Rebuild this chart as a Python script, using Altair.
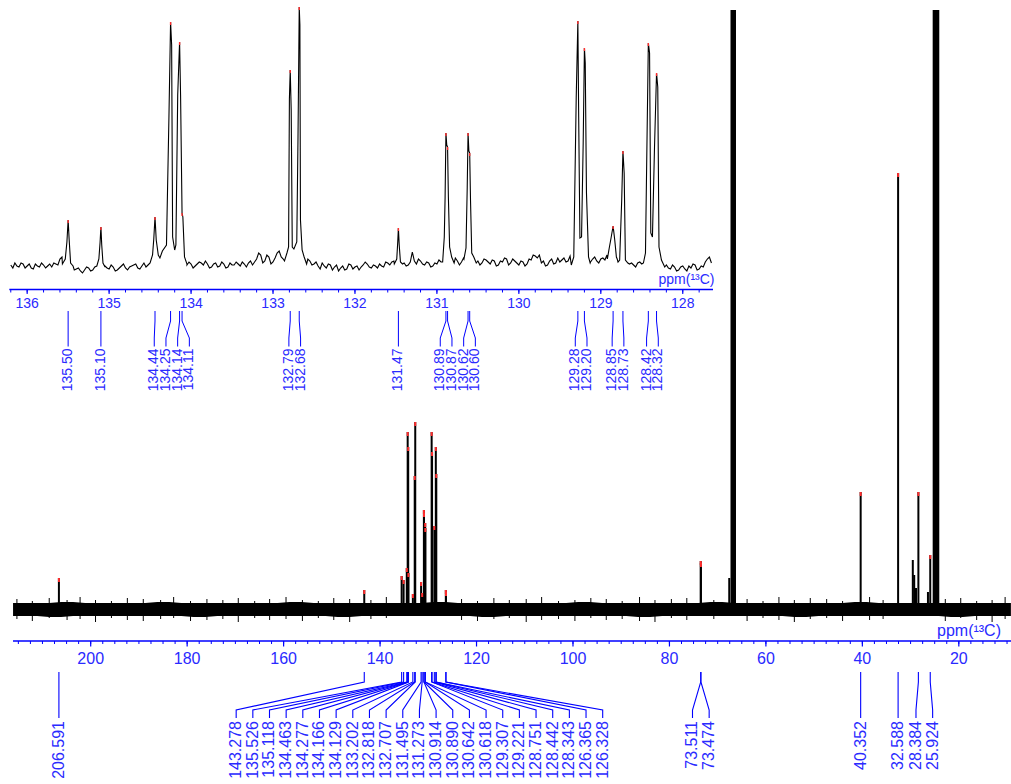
import altair as alt
import numpy as np
import pandas as pd

# ---------------- full 13C spectrum ----------------
main_peak_ppm = [206.591, 143.278, 135.526, 135.118, 134.463, 134.277, 134.166, 134.129,
                 133.202, 132.818, 132.707, 131.495, 131.273, 130.914, 130.890, 130.642,
                 130.618, 129.307, 129.221, 128.751, 128.442, 128.343, 126.365, 126.328,
                 73.511, 73.474, 40.352, 32.588, 28.384, 25.924]
main_peak_height = [31, 19, 33, 29, 41, 177, 162, 36,
                    15, 133, 187, 27, 16, 99, 96, 86,
                    81, 177, 157, 83, 162, 135, 19, 17,
                    48, 46, 117, 436, 117, 54]

# unpicked signals (shoulders of the solvent multiplets, small aliphatic lines)
minor_peak_ppm = [67.6, 29.54, 29.25, 28.88, 26.4]
minor_peak_height = [31, 49, 34, 21, 17]

# solvent multiplets, running off the top of the plot
solvent_ppm_from = [67.34, 25.42]
solvent_ppm_to = [66.20, 24.05]
solvent_height = [599, 599]

# envelope of the baseline noise
noise_upper = [6, 6, 6, 6, 7, 7, 6, 6, 6, 6,
               6, 6, 7, 7, 6, 6, 6, 6, 6, 6,
               6, 6, 6, 7, 7, 6, 6, 6, 6, 6,
               6, 6, 6, 6, 6, 7, 7, 6, 6, 6,
               6, 6, 6, 6, 6, 6, 6, 7, 7, 6,
               6, 6, 6, 6, 6, 6, 6, 6, 7, 7,
               6, 6, 6, 6, 6, 6, 6, 6, 6, 6,
               7, 7, 6, 6, 6, 6, 6, 6, 6, 6,
               6, 6, 6, 6]
noise_lower = [-7, -7, -7, -8, -8, -7, -7, -7, -7, -7,
               -7, -7, -7, -7, -7, -8, -8, -7, -7, -7,
               -7, -7, -7, -7, -7, -7, -7, -8, -8, -7,
               -7, -7, -7, -7, -7, -7, -7, -7, -7, -8,
               -8, -7, -7, -7, -7, -7, -7, -7, -7, -7,
               -7, -7, -8, -8, -7, -7, -7, -7, -7, -7,
               -7, -7, -7, -7, -7, -8, -8, -7, -7, -7,
               -7, -7, -7, -7, -7, -7, -7, -7, -8, -8,
               -7, -7, -7, -7]

# isolated noise spikes reaching out of the band
spike_ppm = [215.3, 212.1, 208.6, 204.9, 202.2, 199.0, 195.7, 192.4, 189.1, 185.5,
             182.8, 179.3, 175.9, 172.6, 169.4, 166.0, 162.9, 159.5, 156.1, 152.8,
             149.6, 146.3, 141.9, 138.7, 123.1, 119.8, 116.4, 113.2, 109.7, 106.5,
             103.0, 99.6, 96.3, 93.1, 89.8, 86.2, 83.0, 79.6, 76.4, 70.8,
             63.9, 60.6, 57.3, 54.1, 50.8, 47.4, 44.1, 38.5, 35.7, 22.8,
             19.6, 16.3, 13.1, 10.4]
spike_top = [10, 8, 11, 9, 12, 9, 8, 11, 10, 9,
             12, 8, 10, 9, 11, 8, 10, 12, 9, 8,
             11, 10, 9, 12, 10, 8, 11, 9, 10, 12,
             8, 9, 11, 10, 8, 12, 9, 10, 11, 9,
             10, 8, 12, 9, 11, 10, 8, 12, 9, 10,
             11, 8, 9, 12]
spike_bottom = [-10, -12, -9, -11, -10, -13, -9, -11, -12, -10,
                -9, -12, -11, -10, -13, -9, -11, -10, -12, -9,
                -11, -13, -10, -9, -11, -12, -10, -9, -13, -11,
                -10, -12, -9, -11, -10, -12, -13, -9, -11, -10,
                -12, -9, -11, -13, -10, -9, -12, -11, -10, -12,
                -9, -11, -13, -10]

main_tick_values = [200, 180, 160, 140, 120, 100, 80, 60, 40, 20]
main_tick_labels = ["200", "180", "160", "140", "120", "100", "80", "60", "40", "20"]

# ---------------- expansion 136 - 127.6 ppm ----------------
inset_peak_ppm = [135.50, 135.10, 134.44, 134.25, 134.14, 134.11, 132.79, 132.68, 131.47,
                  130.89, 130.87, 130.62, 130.60, 129.28, 129.20, 128.85, 128.73, 128.42, 128.32]
inset_peak_height = [47, 40, 50, 245, 225, 54, 197, 260, 39,
                     134, 120, 134, 114, 246, 219, 41, 116, 224, 194]

# line-shape points on the flanks of each signal group (ppm, intensity)
inset_flanks = [
    [(135.57, 3), (135.535, 8), (135.515, 25), (135.488, 28), (135.47, 4), (135.44, 1)],
    [(135.15, 1), (135.125, 8), (135.11, 25), (135.09, 22), (135.075, 4), (135.05, 0)],
    [(134.50, 4), (134.47, 12), (134.455, 28), (134.425, 27), (134.40, 12), (134.38, 9),
     (134.35, 16), (134.30, 22), (134.27, 150), (134.237, 222), (134.225, 30), (134.20, 17),
     (134.185, 22), (134.163, 172), (134.128, 172), (134.10, 50), (134.08, 10), (134.05, 3)],
    [(132.86, 6), (132.83, 14), (132.81, 20), (132.80, 168), (132.778, 157), (132.765, 20),
     (132.745, 18), (132.71, 25), (132.695, 130), (132.672, 242), (132.665, 47), (132.645, 17),
     (132.62, 10), (132.59, 3)],
    [(131.52, 3), (131.49, 8), (131.478, 25), (131.46, 22), (131.445, 5), (131.42, 3)],
    [(130.93, 5), (130.91, 30), (130.90, 70), (130.88, 122), (130.86, 70), (130.845, 20),
     (130.82, 10), (130.79, 4)],
    [(130.67, 8), (130.645, 19), (130.63, 80), (130.61, 116), (130.59, 67), (130.575, 14),
     (130.55, 10), (130.52, 4)],
    [(129.36, 2), (129.33, 10), (129.30, 170), (129.27, 150), (129.255, 29), (129.235, 30),
     (129.215, 124), (129.19, 204), (129.175, 74), (129.15, 10), (129.13, 4)],
    [(128.92, 8), (128.895, 20), (128.875, 29), (128.83, 27), (128.81, 10)],
    [(128.79, 5), (128.77, 7), (128.745, 67), (128.715, 94), (128.70, 7), (128.67, 4)],
    [(128.48, 4), (128.455, 14), (128.44, 105), (128.405, 214), (128.39, 34), (128.37, 30),
     (128.345, 119), (128.305, 180), (128.29, 20), (128.26, 7), (128.22, 0)],
]

# baseline of the expansion, sampled every 0.05 ppm from 136.20 down to 127.65
inset_baseline = [
    2, 4, 0, 3, 1, -1, 3, 0, 2, 1,
    0, 3, 8, 6, 3, 1, -2, -4, -3, -1,
    -3, -2, 0, 1, -2, 0, -3, 1, -1, 0,
    2, -1, 1, 0, 3, 6, 4, 9, 12, 20,
    17, 12, 4, 2, 3, 1, 5, 2, 3, 0,
    4, 1, 3, 0, 2, 5, 1, 3, 4, 2,
    8, 12, 6, 10, 5, 14, 10, 18, 20, 20,
    25, 20, 10, 6, 3, 1, 4, -1, 2, 0,
    -4, 1, -2, 2, 0, -3, 2, 3, -1, 1,
    3, 0, 4, 5, 3, 2, 4, 2, 15, 3,
    6, 2, 4, 1, 3, 5, 8, 20, 10, 6,
    5, 8, 10, 12, 6, 4, 7, 3, 6, 2,
    5, 8, 4, 6, 2, 5, 3, 7, 11, 12,
    6, 2, 8, 4, 5, 9, 6, 10, 30, 40,
    40, 10, 8, 6, 8, 7, 25, 40, 8, 6,
    5, 3, 2, 4, 3, 2, 5, 30, 50, 30,
    2, -2, 0, -3, 1, -4, -1, 2, -2, 0,
    8, 4,
]
# the same baseline between those samples (136.175 down to 127.675)
inset_baseline_mid = [
    -1, 1, 4, -1, 3, -2, 1, 4, -1, 3,
    4, 2, 10, 5, 0, -3, -1, -6, 0, -4,
    0, -4, 3, -1, 2, -4, -1, 3, -3, 1,
    3, -2, 4, 2, 7, 2, 8, 6, 15, 18,
    14, 8, 1, 5, -1, 3, 4, 6, -1, 3,
    0, 5, -1, 4, 2, 3, 5, 0, 6, 5,
    14, 4, 12, 3, 9, 16, 8, 12, 15, 22,
    18, 14, 8, 2, 5, -2, 1, 3, -3, 2,
    -1, -3, 3, -2, 1, 0, 5, 0, 2, -1,
    1, 5, 2, 6, 0, 4, 1, 5, 6, 8,
    3, 5, 0, 4, 7, 3, 12, 14, 9, 2,
    9, 6, 13, 8, 2, 8, 5, 7, 1, 6,
    9, 2, 8, 4, 6, 1, 8, 12, 9, 4,
    1, 6, 3, 9, 7, 5, 11, 8, 20, 30,
    20, 5, 10, 4, 9, 12, 20, 20, 5, 6,
    1, 4, 0, 5, 1, 6, 8, 20, 30, 10,
    -1, 2, -4, 0, -2, 1, 3, -3, 1, 5,
    10,
]

inset_tick_values = [136, 135, 134, 133, 132, 131, 130, 129, 128]
inset_tick_labels = ["136", "135", "134", "133", "132", "131", "130", "129", "128"]

AXIS_TITLE = "ppm(\u00b9\u00b3C)"

# ---------------- layout ----------------
W, H = 1011, 784
BLUE = "#0000ff"
TEXT_BLUE = "#2a2aff"
RED = "#ff2e2e"
MAIN_FONT = "Liberation Sans, Arial, sans-serif"
INSET_FONT = "Liberation Sans Narrow, Arial Narrow, Liberation Sans, sans-serif"

MAIN_DOMAIN, MAIN_RANGE = [216.11, 9.18], [13, 1011]
MAIN_YDOMAIN, MAIN_YRANGE = [0, 599], [609, 10]
INSET_DOMAIN, INSET_RANGE = [136.218, 127.631], [9.3, 713]
INSET_YDOMAIN, INSET_YRANGE = [0, 260], [267, 7]


def lin(domain, rng):
    return alt.Scale(domain=domain, range=rng, nice=False, zero=False)


MX = lin(MAIN_DOMAIN, MAIN_RANGE)
MY = lin(MAIN_YDOMAIN, MAIN_YRANGE)
IX = lin(INSET_DOMAIN, INSET_RANGE)
IY = lin(INSET_YDOMAIN, INSET_YRANGE)
PIX = lin([0, H], [0, H])


def to_px(v, dom, rng):
    return rng[0] + (v - dom[0]) / (dom[1] - dom[0]) * (rng[1] - rng[0])


def to_ppm(px, dom, rng):
    return dom[0] + (px - rng[0]) / (rng[1] - rng[0]) * (dom[1] - dom[0])


def spread(px_sorted, gap):
    """Spread label slots so neighbours are at least `gap` apart,
    keeping every crowded group centred on its peaks."""
    clusters = [[p] for p in px_sorted]
    changed = True
    while changed:
        changed = False
        merged = [clusters[0]]
        for c in clusters[1:]:
            prev = merged[-1]
            prev_right = np.mean(prev) + (len(prev) - 1) / 2 * gap
            cur_left = np.mean(c) - (len(c) - 1) / 2 * gap
            if cur_left - prev_right < gap - 1e-9:
                merged[-1] = prev + c
                changed = True
            else:
                merged.append(c)
        clusters = merged
    slots = []
    for c in clusters:
        m, n = np.mean(c), len(c)
        slots += [m + (k - (n - 1) / 2) * gap for k in range(n)]
    return slots


def peak_labels(ppms, texts, dom, rng, gap, levels):
    px = [to_px(p, dom, rng) for p in ppms]
    order = list(np.argsort(px))
    slots = spread([px[i] for i in order], gap)
    top, stub, diag, bottom = levels
    rows, labels = [], []
    for k, i in enumerate(order):
        lp = to_ppm(slots[k], dom, rng)
        pts = [(ppms[i], top), (ppms[i], stub), (lp, diag), (lp, bottom)]
        for s, (xv, yv) in enumerate(pts):
            rows.append({"id": texts[i], "step": s, "ppm": xv, "ypx": yv})
        labels.append({"ppm": lp, "text": texts[i]})
    return pd.DataFrame(rows), pd.DataFrame(labels)


# ---------------- tables ----------------
band_df = pd.DataFrame({"ppm": np.linspace(216.1, 9.2, len(noise_upper)),
                        "up": noise_upper, "lo": noise_lower})
spike_df = pd.DataFrame({"ppm": spike_ppm, "up": spike_top, "lo": spike_bottom})

sticks_df = pd.DataFrame({"ppm": main_peak_ppm + minor_peak_ppm,
                          "h": main_peak_height + minor_peak_height})
sticks_df["base"] = 0

tips_df = pd.DataFrame({"ppm": main_peak_ppm, "h": main_peak_height})
tips_df["low"] = tips_df["h"] - 4

solv_df = pd.DataFrame({"a": solvent_ppm_from, "b": solvent_ppm_to, "top": solvent_height})
solv_df["base"] = 0

# expansion trace: baseline outside the signal groups + flank points + peak tops
base_pts = list(zip(np.linspace(136.20, 127.65, len(inset_baseline)), inset_baseline))
base_pts += list(zip(np.linspace(136.175, 127.675, len(inset_baseline_mid)), inset_baseline_mid))
spans = [(min(p for p, _ in g), max(p for p, _ in g)) for g in inset_flanks]
trace = [(p, v) for p, v in base_pts if not any(lo <= p <= hi for lo, hi in spans)]
for g in inset_flanks:
    trace += list(g)
trace += list(zip(inset_peak_ppm, inset_peak_height))
trace.sort(key=lambda t: -t[0])
trace_df = pd.DataFrame(trace, columns=["ppm", "h"])
trace_df["idx"] = range(len(trace_df))

itips_df = pd.DataFrame({"ppm": inset_peak_ppm, "h": inset_peak_height})
itips_df["low"] = itips_df["h"] - 3

main_lead_df, main_lab_df = peak_labels(
    main_peak_ppm, [f"{p:.3f}" for p in main_peak_ppm],
    MAIN_DOMAIN, MAIN_RANGE, 16.66, (672, 682, 710, 718))
inset_lead_df, inset_lab_df = peak_labels(
    inset_peak_ppm, [f"{p:.2f}" for p in inset_peak_ppm],
    INSET_DOMAIN, INSET_RANGE, 11.7, (311, 321, 338, 346.5))

main_minor = pd.DataFrame({"v": np.arange(215, 9, -2.5)})
main_major = pd.DataFrame({"v": main_tick_values, "t": main_tick_labels})
inset_minor = pd.DataFrame({"v": np.round(np.arange(136.2, 127.62, -0.2), 1)})
inset_major = pd.DataFrame({"v": inset_tick_values, "t": inset_tick_labels})
main_line = pd.DataFrame({"a": [MAIN_DOMAIN[0]], "b": [MAIN_DOMAIN[1]]})
inset_line = pd.DataFrame({"a": [INSET_DOMAIN[0]], "b": [INSET_DOMAIN[1]]})
title_df = pd.DataFrame({"t": [AXIS_TITLE]})


def X(field, scale):
    return alt.X(field, scale=scale, axis=None)


def Y(field, scale):
    return alt.Y(field, scale=scale, axis=None)


layers = []

# full spectrum
layers.append(alt.Chart(band_df).mark_area(color="black", opacity=1).encode(
    x=X("ppm:Q", MX), y=Y("up:Q", MY), y2="lo:Q"))
layers.append(alt.Chart(spike_df).mark_rule(color="black", strokeWidth=1).encode(
    x=X("ppm:Q", MX), y=Y("up:Q", MY), y2="lo:Q"))
layers.append(alt.Chart(solv_df).mark_rect(color="black").encode(
    x=X("a:Q", MX), x2="b:Q", y=Y("top:Q", MY), y2="base:Q"))
layers.append(alt.Chart(sticks_df).mark_rule(color="black", strokeWidth=2).encode(
    x=X("ppm:Q", MX), y=Y("h:Q", MY), y2="base:Q"))
layers.append(alt.Chart(tips_df).mark_rule(color=RED, strokeWidth=2).encode(
    x=X("ppm:Q", MX), y=Y("h:Q", MY), y2="low:Q"))

# expansion
layers.append(alt.Chart(trace_df).mark_line(color="black", strokeWidth=1.1).encode(
    x=X("ppm:Q", IX), y=Y("h:Q", IY), order="idx:Q"))
layers.append(alt.Chart(itips_df).mark_rule(color=RED, strokeWidth=1.4).encode(
    x=X("ppm:Q", IX), y=Y("h:Q", IY), y2="low:Q"))

# full-spectrum axis
layers.append(alt.Chart(main_line).mark_rule(color=BLUE, strokeWidth=1.6).encode(
    x=X("a:Q", MX), x2="b:Q", y=alt.value(641)))
layers.append(alt.Chart(main_minor).mark_rule(color=BLUE, strokeWidth=1).encode(
    x=X("v:Q", MX), y=alt.value(641), y2=alt.value(644)))
layers.append(alt.Chart(main_major).mark_rule(color=BLUE, strokeWidth=1.2).encode(
    x=X("v:Q", MX), y=alt.value(641), y2=alt.value(646.5)))
layers.append(alt.Chart(main_major).mark_text(
    color=TEXT_BLUE, font=MAIN_FONT, fontSize=16, baseline="middle", align="center").encode(
    x=X("v:Q", MX), y=alt.value(659), text="t:N"))
layers.append(alt.Chart(title_df).mark_text(
    color=TEXT_BLUE, font=MAIN_FONT, fontSize=16, baseline="alphabetic", align="right").encode(
    x=alt.value(1001), y=alt.value(636), text="t:N"))

# expansion axis
layers.append(alt.Chart(inset_line).mark_rule(color=BLUE, strokeWidth=1.4).encode(
    x=X("a:Q", IX), x2="b:Q", y=alt.value(289.5)))
layers.append(alt.Chart(inset_minor).mark_rule(color=BLUE, strokeWidth=1).encode(
    x=X("v:Q", IX), y=alt.value(289.5), y2=alt.value(292.5)))
layers.append(alt.Chart(inset_major).mark_rule(color=BLUE, strokeWidth=1.1).encode(
    x=X("v:Q", IX), y=alt.value(289.5), y2=alt.value(294)))
layers.append(alt.Chart(inset_major).mark_text(
    color=TEXT_BLUE, font=INSET_FONT, fontSize=14, baseline="middle", align="center").encode(
    x=X("v:Q", IX), y=alt.value(303.5), text="t:N"))
layers.append(alt.Chart(title_df).mark_text(
    color=TEXT_BLUE, font=INSET_FONT, fontSize=14, baseline="alphabetic", align="right").encode(
    x=alt.value(714.5), y=alt.value(283.5), text="t:N"))

# peak pick leaders and labels
layers.append(alt.Chart(main_lead_df).mark_line(color=BLUE, strokeWidth=1.1).encode(
    x=X("ppm:Q", MX), y=Y("ypx:Q", PIX), detail="id:N", order="step:Q"))
layers.append(alt.Chart(main_lab_df).mark_text(
    color=TEXT_BLUE, font=MAIN_FONT, fontSize=16, angle=270, align="right",
    baseline="middle").encode(x=X("ppm:Q", MX), y=alt.value(721), text="text:N"))
layers.append(alt.Chart(inset_lead_df).mark_line(color=BLUE, strokeWidth=1).encode(
    x=X("ppm:Q", IX), y=Y("ypx:Q", PIX), detail="id:N", order="step:Q"))
layers.append(alt.Chart(inset_lab_df).mark_text(
    color=TEXT_BLUE, font=INSET_FONT, fontSize=14, angle=270, align="right",
    baseline="middle").encode(x=X("ppm:Q", IX), y=alt.value(348.5), text="text:N"))

chart = alt.layer(*layers).resolve_scale(
    x="independent", y="independent"
).properties(
    width=W, height=H, padding=0, autosize=alt.AutoSizeParams(type="none"),
    background="white"
).configure_view(strokeWidth=0)

chart.save("out.html", embed_options={"renderer": "svg", "actions": False})
